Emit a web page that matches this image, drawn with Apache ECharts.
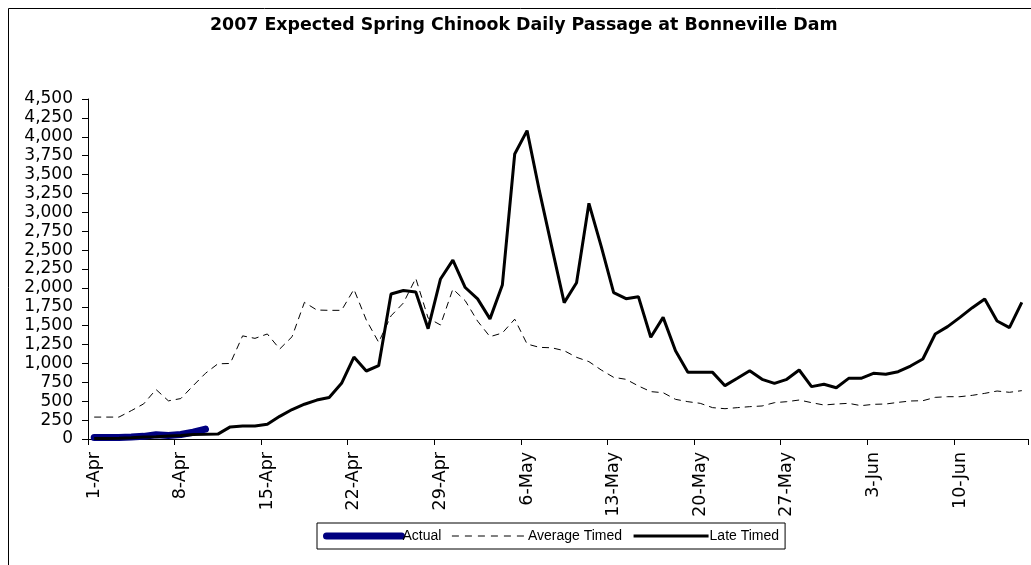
<!DOCTYPE html>
<html>
<head>
<meta charset="utf-8">
<script src="https://cdn.jsdelivr.net/npm/echarts@6/dist/echarts.min.js"></script>
<style>html,body{margin:0;padding:0;background:#fff}#c{width:1031px;height:565px}</style>
</head>
<body>
<div id="c"></div>
<script>
// categories: 1-Apr .. 15-Jun
var months = [['Apr', 30], ['May', 31], ['Jun', 15]];
var categories = [];
months.forEach(function (m) { for (var d = 1; d <= m[1]; d++) categories.push(d + '-' + m[0]); });

var actual = [20, 20, 20, 25, 35, 55, 45, 60, 90, 130];

var averageTimed = [290, 290, 290, 375, 465, 655, 505, 535, 705, 870,
  995, 1000, 1365, 1332, 1390, 1191, 1354, 1809, 1707, 1703,
  1703, 1981, 1575, 1280, 1630, 1800, 2127, 1600, 1509, 1985,
  1830, 1560, 1354, 1403, 1586, 1257, 1213, 1207, 1169, 1081,
  1024, 913, 816, 790, 702, 627, 613, 525, 494, 472,
  415, 401, 415, 428, 437, 481, 494, 516, 481, 450,
  463, 472, 441, 459, 463, 485, 503, 507, 551, 560,
  560, 578, 604, 635, 618, 640];

var lateTimed = [5, 8, 10, 15, 25, 30, 40, 45, 60, 62,
  65, 160, 172, 172, 194, 300, 390, 460, 515, 550,
  737, 1085, 900, 971, 1920, 1965, 1946, 1460, 2118, 2367,
  2005, 1855, 1590, 2038, 3772, 4081, 3280, 2540, 1805, 2069,
  3119, 2546, 1937, 1857, 1884, 1346, 1610, 1169, 885, 885,
  882, 706, 803, 904, 790, 737, 790, 913, 693, 724,
  679, 803, 803, 869, 856, 891, 966, 1059, 1390, 1487,
  1610, 1738, 1853, 1562, 1474, 1809];

var chart = echarts.init(document.getElementById('c'));
chart.setOption({
  animation: false,
  backgroundColor: '#fff',
  graphic: [{
    type: 'rect', silent: true, z: -1,
    shape: { x: 8.5, y: 8.5, width: 1100, height: 700 },
    style: { fill: 'none', stroke: '#000', lineWidth: 1 }
  }],
  title: {
    text: '2007 Expected Spring Chinook Daily Passage at Bonneville Dam',
    left: 210, top: 17, padding: 0,
    textStyle: { fontFamily: 'DejaVu Sans', fontWeight: 'bold', fontSize: 17.4, color: '#000' }
  },
  legend: {
    left: 317, top: 523,
    padding: [6, 6],
    itemWidth: 75, itemHeight: 14, itemGap: 10,
    borderColor: '#000', borderWidth: 1,
    itemStyle: { opacity: 0 },
    textStyle: { fontFamily: 'Liberation Sans', fontSize: 14, color: '#000', padding: [0, 0, 0, -4] },
    data: [
      { name: 'Actual', lineStyle: { width: 7, color: '#000080', cap: 'round' } },
      { name: 'Average Timed', lineStyle: { width: 1, color: '#000', type: [7, 6] } },
      { name: 'Late Timed', lineStyle: { width: 3, color: '#000' } }
    ]
  },
  grid: { left: 88, top: 99, width: 940, height: 340, containLabel: false },
  xAxis: {
    type: 'category',
    data: categories,
    boundaryGap: true,
    axisLine: { lineStyle: { color: '#000', width: 1 } },
    axisTick: { show: true, interval: 6, length: 6, lineStyle: { color: '#000' } },
    axisLabel: { interval: 6, rotate: 90, margin: 13, fontFamily: 'DejaVu Sans', fontSize: 17.5, color: '#000' },
    splitLine: { show: false }
  },
  yAxis: {
    type: 'value',
    min: 0, max: 4500, interval: 250,
    axisLine: { show: true, lineStyle: { color: '#000', width: 1 } },
    axisTick: { show: true, length: 6, lineStyle: { color: '#000' } },
    axisLabel: {
      margin: 15, fontFamily: 'DejaVu Sans', fontSize: 17, color: '#000',
      formatter: function (v) { return v.toLocaleString('en-US'); }
    },
    splitLine: { show: false }
  },
  series: [
    {
      name: 'Actual', type: 'line', data: actual, symbol: 'none',
      lineStyle: { color: '#000080', width: 7, cap: 'round', join: 'round' },
      itemStyle: { color: '#000080' }
    },
    {
      name: 'Average Timed', type: 'line', data: averageTimed, symbol: 'none',
      lineStyle: { color: '#000', width: 1, type: [7, 5] },
      itemStyle: { color: '#000' }
    },
    {
      name: 'Late Timed', type: 'line', data: lateTimed, symbol: 'none',
      lineStyle: { color: '#000', width: 3 },
      itemStyle: { color: '#000' }
    }
  ]
});
</script>
</body>
</html>
